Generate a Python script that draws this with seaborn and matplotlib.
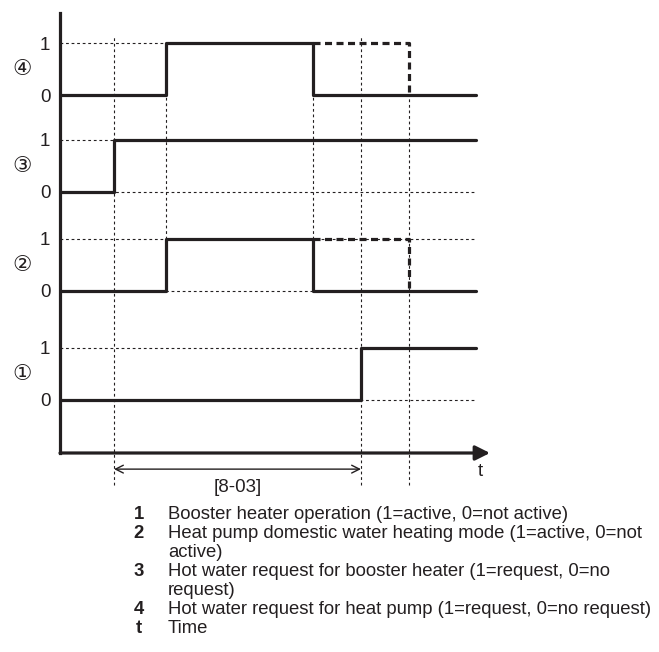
import matplotlib
matplotlib.use("Agg")
import matplotlib.pyplot as plt
import seaborn as sns
import pandas as pd

sns.set_style("white")
plt.rcParams['font.family'] = ['Liberation Sans', 'DejaVu Sans']

INK = "#231f20"

# event times (arbitrary time units from the origin)
t_end = 41.6
t_bh_request = 5.4
t_hp_on = 10.6
t_hp_off = 25.3
t_bh_on = 30.1
t_hp_off_alt = 34.9

# step signals: (times, levels), bottom to top
sig1_t = [0, t_bh_on, t_end]
sig1_v = [0, 1, 1]
sig2_t = [0, t_hp_on, t_hp_off, t_end]
sig2_v = [0, 1, 0, 0]
sig3_t = [0, t_bh_request, t_end]
sig3_v = [0, 1, 1]
sig4_t = [0, t_hp_on, t_hp_off, t_end]
sig4_v = [0, 1, 0, 0]

# alternative (dashed) end of the heat pump request / mode
alt_t = [t_hp_off, t_hp_off_alt]
alt_v = [1, 0]

signal_names = ["①", "②", "③", "④"]
level_labels = ["0", "1"]

legend_keys = ["1", "2", "3", "4", "t"]
legend_texts = [
    ["Booster heater operation (1=active, 0=not active)"],
    ["Heat pump domestic water heating mode (1=active, 0=not", "active)"],
    ["Hot water request for booster heater (1=request, 0=no", "request)"],
    ["Hot water request for heat pump (1=request, 0=no request)"],
    ["Time"],
]
span_label = "[8-03]"

# vertical offset of each signal's 0 level (layout)
offsets = [1.02, 3.12, 5.02, 6.88]

rows = []
for i, (ts, vs) in enumerate([(sig1_t, sig1_v), (sig2_t, sig2_v),
                              (sig3_t, sig3_v), (sig4_t, sig4_v)]):
    for t, v in zip(ts, vs):
        rows.append({"signal": i, "time": t, "y": offsets[i] + v})
df = pd.DataFrame(rows)

alt_rows = []
for i in (1, 3):
    for t, v in zip(alt_t, alt_v):
        alt_rows.append({"signal": i, "time": t, "y": offsets[i] + v})
df_alt = pd.DataFrame(alt_rows)

W, H = 659, 652
fig = plt.figure(figsize=(W / 100, H / 100), dpi=100)
ax = fig.add_axes([60 / W, 1 - 453 / H, 430 / W, 440 / H])
ax.set_xlim(0, 43)
ax.set_ylim(0, 8.46)

dot = dict(color=INK, lw=0.8, ls=(0, (2.5, 2.5)), zorder=1, clip_on=False)

# horizontal guide lines (top level, bottom level) per signal
guide_top = [t_end, t_end, t_end, t_hp_on]
guide_bottom = [t_end, t_end, t_end, 0]
for i, off in enumerate(offsets):
    ax.plot([0, guide_top[i]], [off + 1, off + 1], **dot)
    if guide_bottom[i] > 0:
        ax.plot([0, guide_bottom[i]], [off, off], **dot)

# vertical guide lines
ax.plot([t_bh_request] * 2, [-0.62, 8.04], **dot)
ax.plot([t_bh_on] * 2, [-0.62, 8.04], **dot)
ax.plot([t_hp_off_alt] * 2, [-0.62, offsets[3]], **dot)
for t in (t_hp_on, t_hp_off):
    ax.plot([t, t], [offsets[1] + 1, offsets[3]], **dot)

sns.lineplot(data=df, x="time", y="y", units="signal", estimator=None,
             drawstyle="steps-post", color=INK, lw=2.3, ax=ax,
             legend=False, zorder=3)
sns.lineplot(data=df_alt, x="time", y="y", units="signal", estimator=None,
             drawstyle="steps-post", color=INK, lw=2.3, ls=(0, (2.2, 1.4)),
             ax=ax, legend=False, zorder=3)

# axes: vertical spine and arrowed time axis
for s in ["top", "right", "bottom"]:
    ax.spines[s].set_visible(False)
ax.spines["left"].set_linewidth(2.3)
ax.spines["left"].set_color(INK)
ax.annotate("", xy=(43, 0), xytext=(0, 0),
            arrowprops=dict(arrowstyle="-|>", lw=2.3, color=INK,
                            mutation_scale=22, shrinkA=0, shrinkB=0))

ticks = []
labels = []
for off in offsets:
    ticks += [off, off + 1]
    labels += level_labels
ax.set_yticks(ticks)
ax.set_yticklabels(labels, fontsize=13.5, color=INK)
ax.tick_params(axis="y", length=0, pad=7)
ax.set_xticks([])
ax.set_xlabel("")
ax.set_ylabel("")

for i, off in enumerate(offsets):
    ax.text(-3.8, off + 0.5, signal_names[i], fontsize=15.5, color=INK,
            ha="center", va="center", family=["DejaVu Sans"])

# [8-03] span
ax.annotate("", xy=(t_bh_on, -0.31), xytext=(t_bh_request, -0.31),
            arrowprops=dict(arrowstyle="<->", lw=1.0, color=INK,
                            mutation_scale=14, shrinkA=0, shrinkB=0),
            annotation_clip=False)
ax.text((t_bh_request + t_bh_on) / 2, -0.67, span_label, fontsize=13.5,
        color=INK, ha="center", va="center")
ax.text(42.0, -0.36, "t", fontsize=13.5, color=INK, ha="center", va="center")

# key below the chart
line_step = 19
base = 519
k = 0
for key, lines in zip(legend_keys, legend_texts):
    fig.text(139 / W, 1 - (base + line_step * k) / H, key, fontsize=13.3,
             fontweight="bold", color=INK, ha="center", va="baseline")
    for line in lines:
        fig.text(168 / W, 1 - (base + line_step * k) / H, line,
                 fontsize=13.3, color=INK, ha="left", va="baseline")
        k += 1

fig.savefig("out.png", dpi=100)
